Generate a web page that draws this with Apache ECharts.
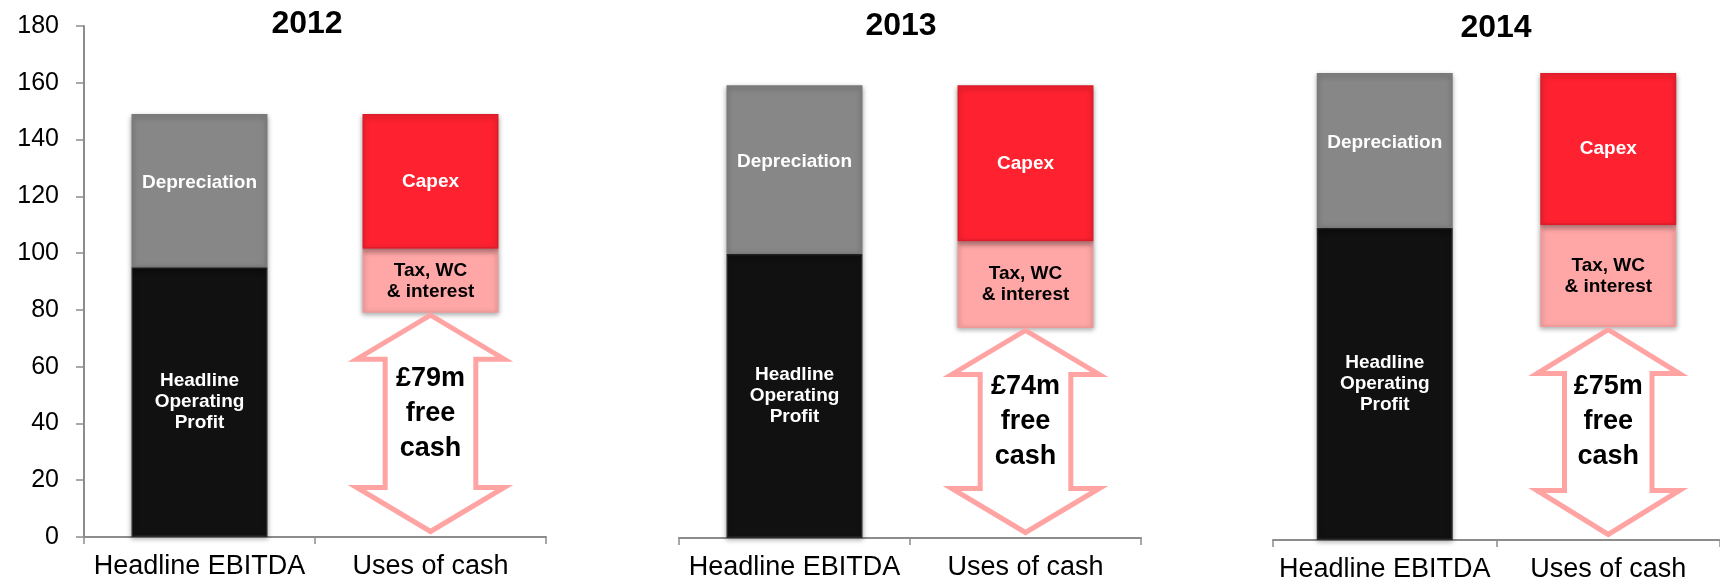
<!DOCTYPE html>
<html>
<head>
<meta charset="utf-8">
<title>Headline EBITDA and uses of cash, 2012–2014</title>
<script src="https://cdn.jsdelivr.net/npm/echarts@6/dist/echarts.min.js"></script>
<style>
  html, body { margin: 0; padding: 0; background: #ffffff; }
  #chart { width: 1720px; height: 585px; }
</style>
</head>
<body>
<div id="chart"></div>
<script>
// ---- data (£m) ----
const years = ['2012', '2013', '2014'];
const categories = ['Headline EBITDA', 'Uses of cash'];
const operatingProfit = [95, 100, 110];
const depreciation = [54, 59.5, 54.5];
const freeCash = [79, 74, 75];
const taxWcInterest = [22.5, 30.5, 36];
const capex = [47.5, 55, 53.5];
const yMin = 0, yMax = 180, yStep = 20;

// ---- layout of the three panels ----
const panels = [
  { left: 84,   top: 26, titleX: 307,  titleY: 24 },
  { left: 679,  top: 27, titleX: 901,  titleY: 26 },
  { left: 1273, top: 29, titleX: 1496, titleY: 28 }
];
const panelWidth = 462, panelHeight = 511;

const FONT = '"Liberation Sans", Arial, sans-serif';
const AXIS_GREY = '#8c8c8c';
const COLORS = {
  profit: '#111111',
  depreciation: '#878787',
  tax: '#ffa7a7',
  capex: '#fe2130',
  arrow: '#ffa3a3'
};
const BORDERS = {
  profit: '#2a2a2a',
  depreciation: '#7a7a7a',
  tax: '#ec9a9a',
  capex: '#dc1c2a'
};

const shadow = { shadowBlur: 5, shadowOffsetY: 2, shadowColor: 'rgba(0,0,0,0.35)' };

function segStyle(key) {
  return Object.assign({ color: COLORS[key], borderColor: BORDERS[key], borderWidth: 1.5 }, shadow);
}

function segLabel(text, color, offsetY) {
  return {
    show: true,
    position: 'inside',
    formatter: text,
    color: color,
    fontFamily: FONT,
    fontWeight: 'bold',
    fontSize: 19,
    lineHeight: 21,
    offset: [0, offsetY || 0]
  };
}

// double-headed hollow arrow showing free cash, from 0 up to the value
function renderArrow(params, api) {
  const cat = api.value(0);
  const val = api.value(1);
  const top = api.coord([cat, val]);
  const base = api.coord([cat, 0]);
  const band = api.size([1, 0])[0];
  const cx = top[0];
  const sw = 5;
  const headHalf = band * 0.33 - sw / 2;
  const shaftHalf = band * 0.207 - sw / 2;
  const headLen = 44;
  const yTop = top[1] + sw / 2;
  const yBot = base[1] - 3 - sw / 2;
  const pts = [
    [cx, yTop],
    [cx + headHalf, yTop + headLen],
    [cx + shaftHalf, yTop + headLen],
    [cx + shaftHalf, yBot - headLen],
    [cx + headHalf, yBot - headLen],
    [cx, yBot],
    [cx - headHalf, yBot - headLen],
    [cx - shaftHalf, yBot - headLen],
    [cx - shaftHalf, yTop + headLen],
    [cx - headHalf, yTop + headLen]
  ];
  const midY = (yTop + yBot) / 2 - 10;
  return {
    type: 'group',
    children: [
      {
        type: 'polygon',
        shape: { points: pts },
        style: { fill: '#ffffff', stroke: COLORS.arrow, lineWidth: sw, lineJoin: 'miter' }
      },
      {
        type: 'text',
        x: cx,
        y: midY,
        style: {
          text: '£' + val + 'm\nfree\ncash',
          fill: '#000000',
          font: 'bold 27px ' + FONT,
          lineHeight: 35,
          align: 'center',
          verticalAlign: 'middle'
        }
      }
    ]
  };
}

const grid = [], xAxis = [], yAxis = [], series = [], graphic = [];

panels.forEach((p, i) => {
  grid.push({ left: p.left, top: p.top, width: panelWidth, height: panelHeight, containLabel: false });

  xAxis.push({
    type: 'category',
    gridIndex: i,
    data: categories,
    axisLine: { show: true, lineStyle: { color: AXIS_GREY, width: 2 } },
    axisTick: { show: true, length: 7, lineStyle: { color: AXIS_GREY, width: 1.5 } },
    axisLabel: { interval: 0, color: '#000000', fontFamily: FONT, fontSize: 27, margin: 16 }
  });

  const first = i === 0;
  yAxis.push({
    type: 'value',
    gridIndex: i,
    min: yMin,
    max: yMax,
    interval: yStep,
    axisLine: { show: first, lineStyle: { color: AXIS_GREY, width: 2 } },
    axisTick: { show: first, length: 8, lineStyle: { color: AXIS_GREY, width: 1.5 } },
    axisLabel: { show: first, color: '#000000', fontFamily: FONT, fontSize: 25, margin: 25 },
    splitLine: { show: false }
  });

  const stack = 'panel' + i;
  const common = { type: 'bar', xAxisIndex: i, yAxisIndex: i, stack: stack, barWidth: 136, silent: true };

  series.push(Object.assign({}, common, {
    name: 'Headline Operating Profit',
    data: [operatingProfit[i], '-'],
    itemStyle: segStyle('profit'),
    label: segLabel('Headline\nOperating\nProfit', '#ffffff', 0)
  }));
  series.push(Object.assign({}, common, {
    name: 'Depreciation',
    data: [depreciation[i], '-'],
    itemStyle: segStyle('depreciation'),
    label: segLabel('Depreciation', '#ffffff', -8)
  }));
  // free cash sits at the bottom of the uses stack; drawn as the arrow below
  series.push(Object.assign({}, common, {
    name: 'Free cash',
    data: ['-', freeCash[i]],
    itemStyle: { color: 'rgba(0,0,0,0)' }
  }));
  series.push(Object.assign({}, common, {
    name: 'Tax, WC & interest',
    data: ['-', taxWcInterest[i]],
    itemStyle: segStyle('tax'),
    label: segLabel('Tax, WC\n& interest', '#000000', 0)
  }));
  series.push(Object.assign({}, common, {
    name: 'Capex',
    data: ['-', capex[i]],
    itemStyle: segStyle('capex'),
    label: segLabel('Capex', '#ffffff', 0)
  }));
  series.push({
    type: 'custom',
    name: 'Free cash arrow',
    xAxisIndex: i,
    yAxisIndex: i,
    silent: true,
    renderItem: renderArrow,
    data: [[1, freeCash[i]]],
    z: 3
  });

  graphic.push({
    type: 'text',
    x: p.titleX,
    y: p.titleY,
    style: {
      text: years[i],
      fill: '#000000',
      font: 'bold 32px ' + FONT,
      align: 'center',
      verticalAlign: 'middle'
    }
  });
});

const chart = echarts.init(document.getElementById('chart'), null, { renderer: 'canvas' });
chart.setOption({
  animation: false,
  backgroundColor: '#ffffff',
  textStyle: { fontFamily: FONT },
  grid: grid,
  xAxis: xAxis,
  yAxis: yAxis,
  series: series,
  graphic: graphic
});
</script>
</body>
</html>
